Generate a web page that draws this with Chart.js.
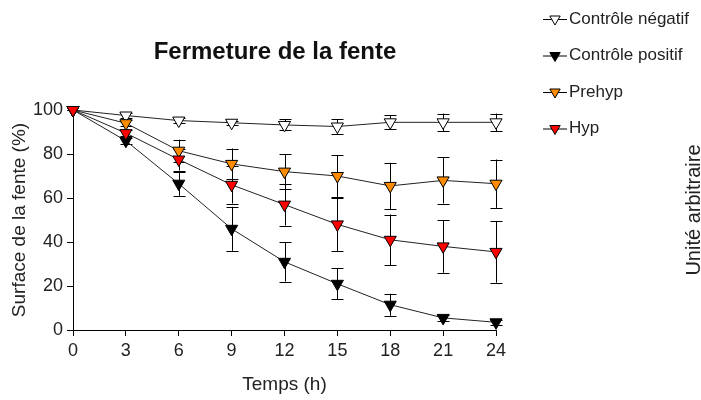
<!DOCTYPE html>
<html>
<head>
<meta charset="utf-8">
<script src="https://cdn.jsdelivr.net/npm/chart.js@4"></script>
<style>
    html, body { margin: 0; padding: 0; background: #fff; }
    #wrap { width: 701px; height: 400px; position: relative; }
</style>
</head>
<body>
<div id="wrap"><canvas id="chart"></canvas></div>
<script>
// données
const temps = [0, 3, 6, 9, 12, 15, 18, 21, 24];

const negMoy = [100, 97.5, 95.2, 94.2, 93.2, 92.5, 94.4, 94.4, 94.4];
const negErr = [0, 1, 1, 1, 2.5, 3.3, 3.2, 4, 4];

const posMoy = [100, 86, 66.5, 46, 31, 21, 11.5, 5.5, 3.5];
const posErr = [0, 1.5, 5.5, 10, 9, 7, 5, 1.5, 1];

const preMoy = [100, 94, 81.5, 75.5, 72, 70, 65.5, 68, 66.5];
const preErr = [0, 1.5, 5, 7, 8, 9.5, 10.5, 10.5, 11];

const hypMoy = [100, 89.5, 77.5, 66, 57, 48, 41, 38, 35.5];
const hypErr = [0, 1.5, 5, 8.5, 9.5, 12, 11.5, 12, 14];

const xTicks = [0, 3, 6, 9, 12, 15, 18, 21, 24];
const yTicks = [0, 20, 40, 60, 80, 100];

const series = [
    { label: 'Contrôle négatif', moy: negMoy, err: negErr, fill: '#ffffff', order: 3 },
    { label: 'Contrôle positif', moy: posMoy, err: posErr, fill: '#000000', order: 2 },
    { label: 'Prehyp', moy: preMoy, err: preErr, fill: '#ff8c00', order: 1 },
    { label: 'Hyp', moy: hypMoy, err: hypErr, fill: '#ff0000', order: 0 }
];

const FONT = "'Liberation Sans', Arial, sans-serif";

function triangle(ctx, x, y, r, fill) {
    ctx.save();
    ctx.beginPath();
    ctx.moveTo(x, y + r);
    ctx.lineTo(x - r * 0.866, y - r / 2);
    ctx.lineTo(x + r * 0.866, y - r / 2);
    ctx.closePath();
    ctx.fillStyle = fill;
    ctx.fill();
    ctx.lineWidth = 1;
    ctx.strokeStyle = '#000';
    ctx.stroke();
    ctx.restore();
}

// barres d'erreur
const errorBars = {
    id: 'errorBars',
    beforeDatasetsDraw(chart) {
        const ctx = chart.ctx;
        const xs = chart.scales.x, ys = chart.scales.y;
        ctx.save();
        ctx.strokeStyle = '#000';
        ctx.lineWidth = 1;
        series.forEach(s => {
            s.moy.forEach((m, i) => {
                const e = s.err[i];
                if (!e) return;
                const px = Math.round(xs.getPixelForValue(temps[i])) + 0.5;
                const top = ys.getPixelForValue(m + e);
                const bot = ys.getPixelForValue(m - e);
                ctx.beginPath();
                ctx.moveTo(px, top); ctx.lineTo(px, bot);
                ctx.moveTo(px - 6, Math.round(top) + 0.5); ctx.lineTo(px + 6, Math.round(top) + 0.5);
                ctx.moveTo(px - 6, Math.round(bot) + 0.5); ctx.lineTo(px + 6, Math.round(bot) + 0.5);
                ctx.stroke();
            });
        });
        ctx.restore();
    }
};

// titre, légende et texte à droite
const decor = {
    id: 'decor',
    afterDraw(chart) {
        const ctx = chart.ctx;
        ctx.save();
        ctx.fillStyle = '#111';
        ctx.font = 'bold 24px ' + FONT;
        ctx.textAlign = 'center';
        ctx.textBaseline = 'middle';
        ctx.fillText('Fermeture de la fente', 275, 52);

        ctx.font = '17px ' + FONT;
        ctx.textAlign = 'left';
        series.forEach((s, i) => {
            const y = 19 + i * 36.5;
            ctx.strokeStyle = '#000';
            ctx.lineWidth = 1;
            ctx.beginPath();
            ctx.moveTo(543, y + 0.5); ctx.lineTo(567, y + 0.5);
            ctx.stroke();
            triangle(ctx, 555, y, 6, s.fill);
            ctx.fillStyle = '#222';
            ctx.fillText(s.label, 569, y);
        });

        ctx.translate(694, 210);
        ctx.rotate(-Math.PI / 2);
        ctx.textAlign = 'center';
        ctx.font = '20px ' + FONT;
        ctx.fillText('Unité arbitraire', 0, 0);
        ctx.restore();
    }
};

const datasets = series.map(s => ({
    label: s.label,
    data: temps.map((t, i) => ({ x: t, y: s.moy[i] })),
    borderColor: '#222',
    borderWidth: 1,
    pointStyle: 'triangle',
    rotation: 180,
    pointRadius: 7,
    pointBackgroundColor: s.fill,
    pointBorderColor: '#000',
    pointBorderWidth: 1,
    order: s.order,
    clip: false,
    tension: 0
}));

new Chart(document.getElementById('chart'), {
    type: 'line',
    data: { datasets: datasets },
    options: {
        responsive: true,
        maintainAspectRatio: false,
        animation: false,
        layout: { padding: { top: 110, right: 205, left: 0, bottom: 0 } },
        plugins: {
            legend: { display: false },
            tooltip: { enabled: false }
        },
        scales: {
            x: {
                type: 'linear',
                min: 0,
                max: 24,
                afterFit: s => { s.height = 70; },
                afterBuildTicks: s => { s.ticks = xTicks.map(v => ({ value: v })); },
                border: { display: true, color: '#000', width: 1 },
                grid: { drawOnChartArea: false, drawTicks: true, tickLength: 6, color: '#000' },
                ticks: { color: '#222', font: { family: FONT, size: 18 }, padding: 4, maxRotation: 0 },
                title: { display: true, text: 'Temps (h)', color: '#222', font: { family: FONT, size: 19 }, padding: { top: 4, bottom: 4 } }
            },
            y: {
                min: 0,
                max: 100,
                afterFit: s => { s.width = 73; },
                afterBuildTicks: s => { s.ticks = yTicks.map(v => ({ value: v })); },
                border: { display: true, color: '#000', width: 1 },
                grid: { drawOnChartArea: false, drawTicks: true, tickLength: 6, color: '#000' },
                ticks: { color: '#222', font: { family: FONT, size: 18 }, padding: 4 },
                title: { display: true, text: 'Surface de la fente (%)', color: '#222', font: { family: FONT, size: 19 }, padding: { top: 8, bottom: 4 } }
            }
        }
    },
    plugins: [errorBars, decor]
});
</script>
</body>
</html>
